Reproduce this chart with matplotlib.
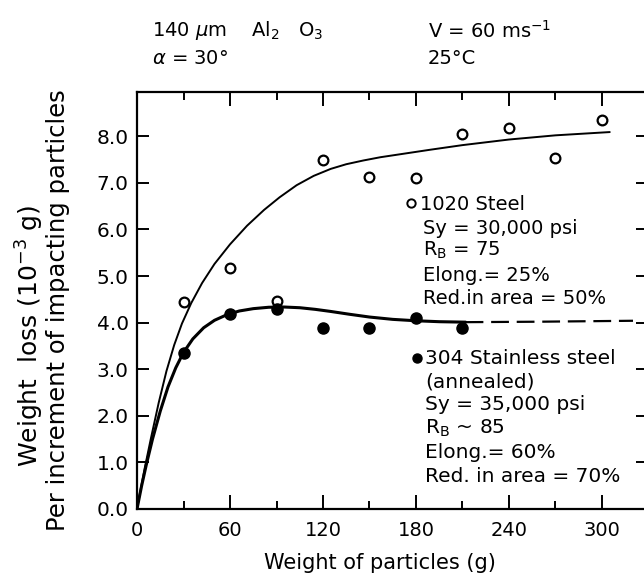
import numpy as np
import matplotlib
matplotlib.use("Agg")
import matplotlib.pyplot as plt
from matplotlib.ticker import MultipleLocator, FixedLocator

plt.rcParams['font.family'] = ['DejaVu Sans']
plt.rcParams['mathtext.fontset'] = 'dejavusans'

# ---- data ----
steel1020_x = [30, 60, 90, 120, 150, 180, 210, 240, 270, 300]
steel1020_y = [4.45, 5.18, 4.47, 7.50, 7.12, 7.11, 8.04, 8.17, 7.53, 8.34]

ss304_x = [30, 60, 90, 120, 150, 180, 210]
ss304_y = [3.35, 4.19, 4.29, 3.88, 3.89, 4.09, 3.89]

# fitted curves
fit1020_x = [0, 2, 5, 9, 14, 19, 24, 29, 35, 42, 50, 60, 71, 82, 92,
             103, 114, 125, 135, 146, 157, 173, 189, 210, 240, 270, 305]
fit1020_y = [0, 0.36, 0.88, 1.52, 2.28, 2.96, 3.52, 3.98, 4.42, 4.85, 5.26, 5.68,
             6.08, 6.42, 6.69, 6.95, 7.15, 7.30, 7.40, 7.48, 7.55, 7.63, 7.71,
             7.81, 7.93, 8.02, 8.09]

fit304_x = [0, 3, 6, 10, 15, 20, 25, 30, 36, 43, 50, 58, 66, 75, 85, 95, 105,
            115, 125, 137, 150, 165, 180, 195, 212]
fit304_y = [0, 0.50, 0.95, 1.50, 2.10, 2.62, 3.03, 3.36, 3.65, 3.89, 4.05, 4.17,
            4.25, 4.30, 4.33, 4.335, 4.32, 4.285, 4.24, 4.18, 4.12, 4.07, 4.04,
            4.02, 4.01]

ext304_x = [212, 260, 320]
ext304_y = [4.01, 4.02, 4.04]

x_ticks = [0, 60, 120, 180, 240, 300]
x_ticklabels = ['0', '60', '120', '180', '240', '300']
y_ticks = [0, 1, 2, 3, 4, 5, 6, 7, 8]
y_ticklabels = ['0.0', '1.0', '2.0', '3.0', '4.0', '5.0', '6.0', '7.0', '8.0']

# ---- figure ----
W, H = 644, 573
fig = plt.figure(figsize=(W / 100, H / 100), dpi=100)
fig.patch.set_facecolor('white')

left_px, right_px, top_px, bottom_px = 137, 648.5, 92, 509
ax = fig.add_axes([left_px / W, 1 - bottom_px / H,
                   (right_px - left_px) / W, (bottom_px - top_px) / H])
ax.set_xlim(0, 330)
ax.set_ylim(0, 8.95)

ax.plot(fit1020_x, fit1020_y, color='black', lw=1.4, solid_capstyle='round',
        solid_joinstyle='round')
ax.plot(fit304_x, fit304_y, color='black', lw=2.2, solid_capstyle='round',
        solid_joinstyle='round')
ax.plot(ext304_x, ext304_y, color='black', lw=1.6, dashes=(8, 3.5))

ax.plot(steel1020_x, steel1020_y, linestyle='none', marker='o', ms=7,
        mfc='white', mec='black', mew=1.6)
ax.plot(ss304_x, ss304_y, linestyle='none', marker='o', ms=8,
        mfc='black', mec='black')

for s in ax.spines.values():
    s.set_linewidth(1.6)

ax.xaxis.set_major_locator(FixedLocator(x_ticks))
ax.set_xticklabels(x_ticklabels)
ax.xaxis.set_minor_locator(MultipleLocator(30))
ax.yaxis.set_major_locator(FixedLocator(y_ticks))
ax.set_yticklabels(y_ticklabels)

ax.tick_params(axis='x', which='major', direction='in', length=10, width=1.4,
               top=True, bottom=True, labelsize=14, pad=9)
ax.tick_params(axis='x', which='minor', direction='in', length=6, width=1.4,
               top=True, bottom=True)
ax.tick_params(axis='y', which='major', direction='in', length=8.5, width=1.4,
               left=True, right=True, labelsize=14.5, pad=6)


def px(x, y):
    return (x / W, 1 - y / H)


fs = 14
hs = 14
# header texts
fig.text(*px(152, 31), r'140 $\mu$m    Al$_2$   O$_3$', fontsize=hs, va='center', ha='left')
fig.text(*px(152, 58), r'$\alpha$ = 30°', fontsize=hs, va='center', ha='left')
fig.text(*px(428, 31), r'V = 60 ms$^{-1}$', fontsize=hs, va='center', ha='left')
fig.text(*px(428, 58), '25°C', fontsize=hs, va='center', ha='left')

# legend-like annotations
ax.plot([176.8], [6.56], linestyle='none', marker='o', ms=6,
        mfc='white', mec='black', mew=1.4, clip_on=False)
lines1 = ['1020 Steel', 'Sy = 30,000 psi', r'R$_\mathrm{B}$ = 75', 'Elong.= 25%',
          'Red.in area = 50%']
ys1 = [205, 228, 250, 275, 298]
for t, yy, xx in zip(lines1, ys1, [420, 423, 423, 423, 423]):
    fig.text(*px(xx, yy), t, fontsize=fs, va='center', ha='left')

ax.plot([180.6], [3.25], linestyle='none', marker='o', ms=6.5,
        mfc='black', mec='black', clip_on=False)
lines2 = ['304 Stainless steel', '(annealed)', 'Sy = 35,000 psi', r'R$_\mathrm{B}$ ~ 85',
          'Elong.= 60%', 'Red. in area = 70%']
ys2 = [358, 382, 405, 428, 453, 476]
for t, yy in zip(lines2, ys2):
    fig.text(*px(425, yy), t, fontsize=14.5, va='center', ha='left')

# axis labels
fig.text(*px(380, 563), 'Weight of particles (g)', fontsize=15, va='center', ha='center')
fig.text(*px(30, 336), r'Weight  loss (10$^{-3}$ g)', fontsize=18, va='center',
         ha='center', rotation=90)
fig.text(*px(58, 310), 'Per increment of impacting particles', fontsize=17.5,
         va='center', ha='center', rotation=90)

fig.savefig('out.png', dpi=100, facecolor='white')
